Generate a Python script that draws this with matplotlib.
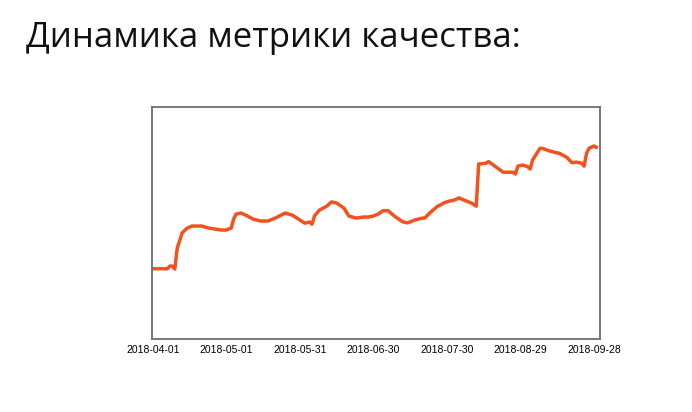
import matplotlib
matplotlib.use("Agg")
import matplotlib.pyplot as plt
import matplotlib.dates as mdates
import pandas as pd

# ── Data ─────────────────────────────────────────────────────────────────────
title = "Динамика метрики качества:"
start = "2018-04-01"
days = [0, 6, 7, 8, 9, 10, 12, 14, 16, 20, 23, 28, 30, 31, 32, 33, 34, 36, 38,
        41, 44, 47, 50, 54, 57, 60, 62, 64, 65, 66, 68, 71, 73, 75, 78, 80, 83,
        86, 88, 90, 92, 94, 96, 99, 102, 104, 107, 110, 111, 113, 116, 119,
        121, 123, 125, 127, 130, 132, 133, 136, 137, 139, 143, 147, 148, 149,
        151, 153, 154, 155, 158, 159, 162, 166, 169, 171, 173, 175, 176, 177,
        178, 180, 181]
metric = [0.390, 0.390, 0.400, 0.400, 0.389, 0.468, 0.525, 0.543, 0.551, 0.551,
          0.543, 0.536, 0.536, 0.540, 0.543, 0.577, 0.596, 0.600, 0.592, 0.577,
          0.570, 0.570, 0.581, 0.600, 0.592, 0.574, 0.562, 0.566, 0.558, 0.589,
          0.611, 0.626, 0.642, 0.638, 0.619, 0.589, 0.581, 0.585, 0.585, 0.589,
          0.596, 0.609, 0.609, 0.586, 0.567, 0.563, 0.574, 0.581, 0.581, 0.600,
          0.624, 0.639, 0.645, 0.649, 0.657, 0.649, 0.638, 0.626, 0.785, 0.788,
          0.794, 0.781, 0.754, 0.754, 0.747, 0.777, 0.781, 0.775, 0.766, 0.800,
          0.844, 0.844, 0.834, 0.825, 0.810, 0.790, 0.792, 0.788, 0.777, 0.825,
          0.844, 0.853, 0.848]
tick_step_days = 30
# ─────────────────────────────────────────────────────────────────────────────

dates = pd.Timestamp(start) + pd.to_timedelta(days, unit="D")

fig = plt.figure(figsize=(6.92, 4.12), dpi=100)
fig.text(26 / 692, 1 - 47 / 412, title, fontsize=25, family="Open Sans",
         color="#111111", va="baseline", ha="left")

ax = fig.add_axes([152 / 692, 1 - 339 / 412, 448 / 692, 232 / 412])
ax.plot(dates, metric, color="#f4511e", linewidth=2.5, solid_joinstyle="round")

ticks = pd.date_range(start, periods=7, freq=f"{tick_step_days}D")
ax.set_xticks(ticks)
ax.xaxis.set_major_formatter(mdates.DateFormatter("%Y-%m-%d"))
ax.set_xlim(pd.Timestamp(start) - pd.Timedelta(days=0.3),
            pd.Timestamp(start) + pd.Timedelta(days=182.5))
ax.set_ylim(0.125, 1)
ax.set_yticks([])
ax.tick_params(axis="x", length=0, pad=4, labelsize=7.5)
for lbl in ax.get_xticklabels():
    lbl.set_family("Liberation Sans")
for s in ax.spines.values():
    s.set_color("#6e6e6e")
    s.set_linewidth(1.3)

fig.savefig("out.png", dpi=100)
